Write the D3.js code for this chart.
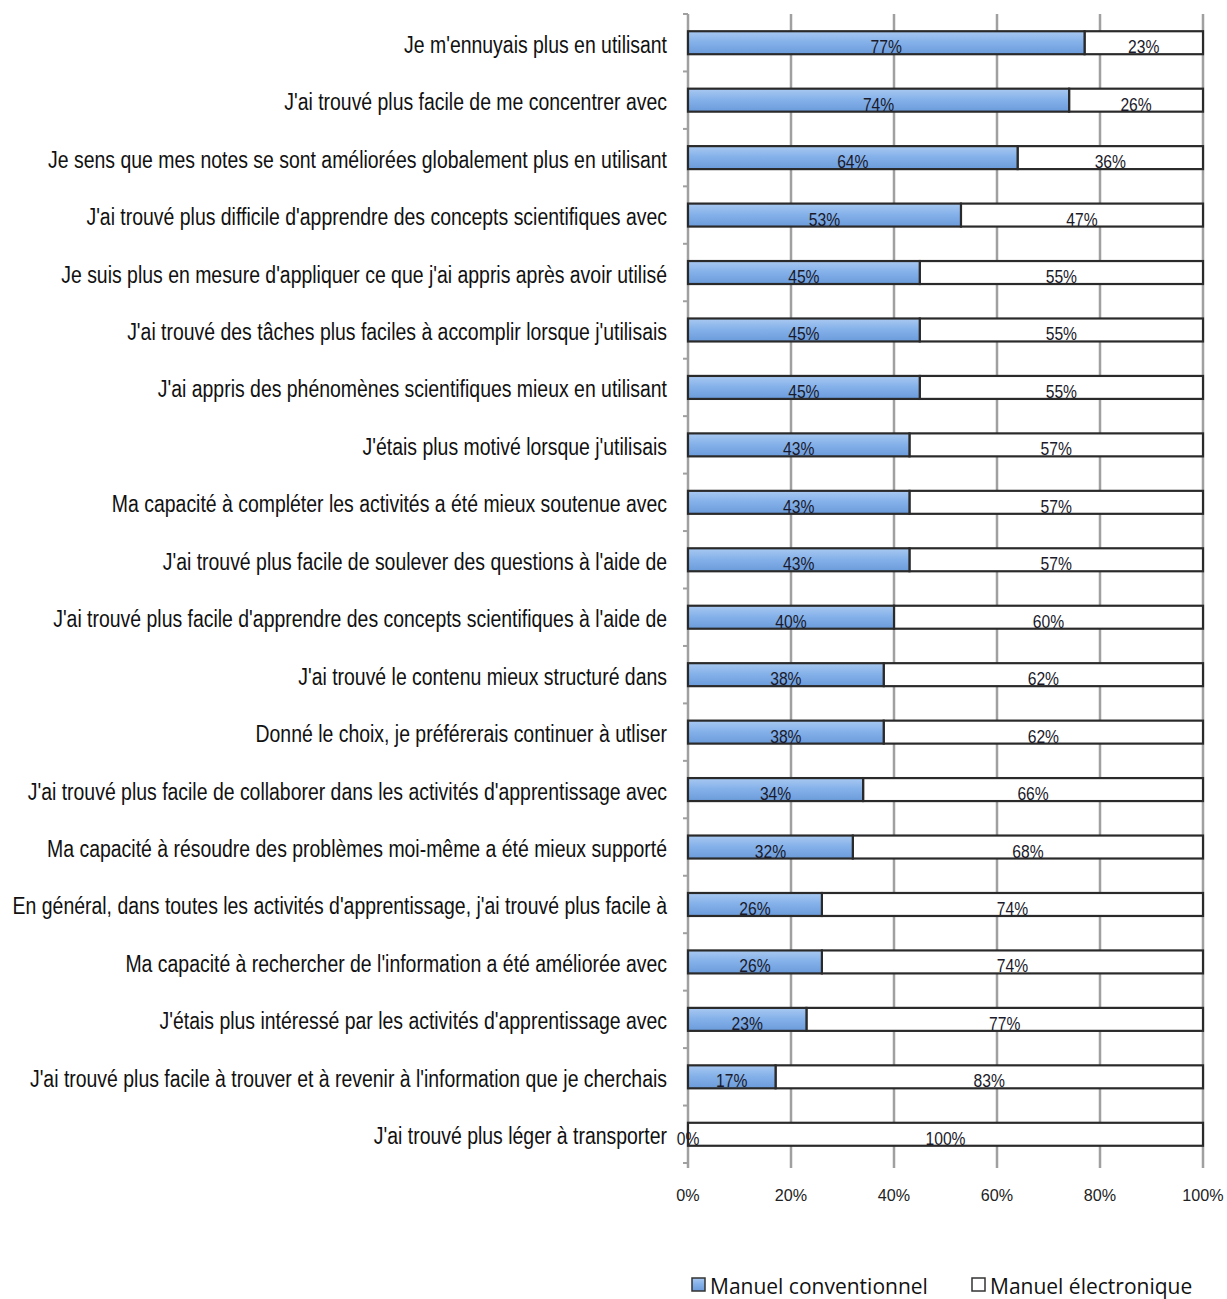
<html>
<head>
<meta charset="utf-8">
<style>
  body { margin: 0; background: #fff; }
  .cat { font-family: "Liberation Sans", Arial, sans-serif; }
</style>
</head>
<body>
<script src="https://cdn.jsdelivr.net/npm/d3@7/dist/d3.min.js"></script>
<script>
// data
var categories = [
  "Je m'ennuyais plus en utilisant",
  "J'ai trouvé plus facile de me concentrer avec",
  "Je sens que mes notes se sont améliorées globalement plus en utilisant",
  "J'ai trouvé plus difficile d'apprendre des concepts scientifiques avec",
  "Je suis plus en mesure d'appliquer ce que j'ai appris après avoir utilisé",
  "J'ai trouvé des tâches plus faciles à accomplir lorsque j'utilisais",
  "J'ai appris des phénomènes scientifiques mieux en utilisant",
  "J'étais plus motivé lorsque j'utilisais",
  "Ma capacité à compléter les activités a été mieux soutenue avec",
  "J'ai trouvé plus facile de soulever des questions à l'aide de",
  "J'ai trouvé plus facile d'apprendre des concepts scientifiques à l'aide de",
  "J'ai trouvé le contenu mieux structuré dans",
  "Donné le choix, je préférerais continuer à utliser",
  "J'ai trouvé plus facile de collaborer dans les activités d'apprentissage avec",
  "Ma capacité à résoudre des problèmes moi-même a été mieux supporté",
  "En général, dans toutes les activités d'apprentissage, j'ai trouvé plus facile à",
  "Ma capacité à rechercher de l'information a été améliorée avec",
  "J'étais plus intéressé par les activités d'apprentissage avec",
  "J'ai trouvé plus facile à trouver et à revenir à l'information que je cherchais",
  "J'ai trouvé plus léger à transporter"
];
var conventionnel = [77, 74, 64, 53, 45, 45, 45, 43, 43, 43, 40, 38, 38, 34, 32, 26, 26, 23, 17, 0];
var electronique  = [23, 26, 36, 47, 55, 55, 55, 57, 57, 57, 60, 62, 62, 66, 68, 74, 74, 77, 83, 100];
var seriesNames = ["Manuel conventionnel", "Manuel électronique"];
var xTicks = [0, 20, 40, 60, 80, 100];

var width = 1227, height = 1299;
var plotLeft = 688, plotRight = 1203, plotTop = 14, plotBottom = 1163;

var svg = d3.select("body").append("svg")
    .attr("width", width)
    .attr("height", height);

// gradient for blue bars
var defs = svg.append("defs");
var grad = defs.append("linearGradient").attr("id", "blue")
    .attr("x1", 0).attr("y1", 0).attr("x2", 0).attr("y2", 1);
grad.append("stop").attr("offset", "0%").attr("stop-color", "#a9c9f1");
grad.append("stop").attr("offset", "45%").attr("stop-color", "#86b2ea");
grad.append("stop").attr("offset", "100%").attr("stop-color", "#6b9bdb");

var x = d3.scaleLinear().domain([0, 100]).range([plotLeft, plotRight]);
var y = d3.scaleBand().domain(categories).range([plotTop, plotBottom]).paddingInner(0.6).paddingOuter(0.3);
var yb = d3.scaleBand().domain(categories).range([plotTop, plotBottom]);

var rows = categories.map(function(c, i) {
  return { cat: c, a: conventionnel[i], b: electronique[i] };
});

// grid lines
svg.append("g")
  .selectAll("line")
  .data(xTicks.slice(1))
  .enter().append("line")
    .attr("x1", function(d) { return x(d); })
    .attr("x2", function(d) { return x(d); })
    .attr("y1", plotTop)
    .attr("y2", plotBottom + 5)
    .attr("stroke", "#a0a0a0")
    .attr("stroke-width", 2.5);

// left axis line and ticks at band edges
svg.append("line")
  .attr("x1", plotLeft).attr("x2", plotLeft)
  .attr("y1", plotTop).attr("y2", plotBottom + 5)
  .attr("stroke", "#a0a0a0").attr("stroke-width", 2.5);

var edges = categories.map(function(c) { return yb(c); }).concat([plotBottom]);
svg.append("g")
  .selectAll("line")
  .data(edges)
  .enter().append("line")
    .attr("x1", plotLeft - 5).attr("x2", plotLeft)
    .attr("y1", function(d) { return d; })
    .attr("y2", function(d) { return d; })
    .attr("stroke", "#a0a0a0")
    .attr("stroke-width", 2);

// bars
var g = svg.append("g");
g.selectAll("rect.b")
  .data(rows)
  .enter().append("rect")
    .attr("class", "b")
    .attr("x", function(d) { return x(d.a); })
    .attr("y", function(d) { return y(d.cat); })
    .attr("width", function(d) { return x(d.a + d.b) - x(d.a); })
    .attr("height", y.bandwidth())
    .attr("fill", "#fff")
    .attr("stroke", "#2a2a2a")
    .attr("stroke-width", 2.2);

g.selectAll("rect.a")
  .data(rows.filter(function(d) { return d.a > 0; }))
  .enter().append("rect")
    .attr("class", "a")
    .attr("x", x(0))
    .attr("y", function(d) { return y(d.cat); })
    .attr("width", function(d) { return x(d.a) - x(0); })
    .attr("height", y.bandwidth())
    .attr("fill", "url(#blue)")
    .attr("stroke", "#2a2a2a")
    .attr("stroke-width", 2.2);

// value labels
var lab = svg.append("g")
    .attr("class", "cat")
    .attr("font-size", 18)
    .attr("fill", "#1a1a2a")
    .attr("text-anchor", "middle");

function labelY(d) { return y(d.cat) + y.bandwidth() - 1; }

lab.selectAll("text.la")
  .data(rows)
  .enter().append("text")
    .attr("transform", function(d) {
      return "translate(" + ((x(0) + x(d.a)) / 2) + "," + labelY(d) + ") scale(0.87,1)";
    })
    .text(function(d) { return d.a + "%"; });

lab.selectAll("text.lb")
  .data(rows)
  .enter().append("text")
    .attr("transform", function(d) {
      return "translate(" + ((x(d.a) + x(d.a + d.b)) / 2) + "," + labelY(d) + ") scale(0.87,1)";
    })
    .text(function(d) { return d.b + "%"; });

// category labels
svg.append("g")
    .attr("class", "cat")
    .attr("font-size", 24)
    .attr("fill", "#111")
    .attr("text-anchor", "end")
  .selectAll("text")
  .data(categories)
  .enter().append("text")
    .attr("transform", function(d) {
      return "translate(667," + (yb(d) + yb.bandwidth() / 2 + 10) + ") scale(0.81,1)";
    })
    .text(function(d) { return d; });

// x axis labels
svg.append("g")
    .attr("class", "cat")
    .attr("font-size", 17)
    .attr("fill", "#222")
    .attr("text-anchor", "middle")
  .selectAll("text")
  .data(xTicks)
  .enter().append("text")
    .attr("transform", function(d) { return "translate(" + x(d) + ",1201) scale(0.95,1)"; })
    .text(function(d) { return d + "%"; });

// legend
var legend = svg.append("g")
    .attr("font-family", "'Open Sans', 'Liberation Sans', sans-serif")
    .attr("font-size", 21)
    .attr("fill", "#111");
var legendX = [692, 972];
var legendFill = ["url(#blue)", "#fff"];
seriesNames.forEach(function(name, i) {
  legend.append("rect")
    .attr("x", legendX[i]).attr("y", 1278)
    .attr("width", 13).attr("height", 13)
    .attr("fill", legendFill[i])
    .attr("stroke", "#333").attr("stroke-width", 1.5);
  legend.append("text")
    .attr("x", legendX[i] + 18).attr("y", 1294)
    .text(name);
});
</script>
</body>
</html>
